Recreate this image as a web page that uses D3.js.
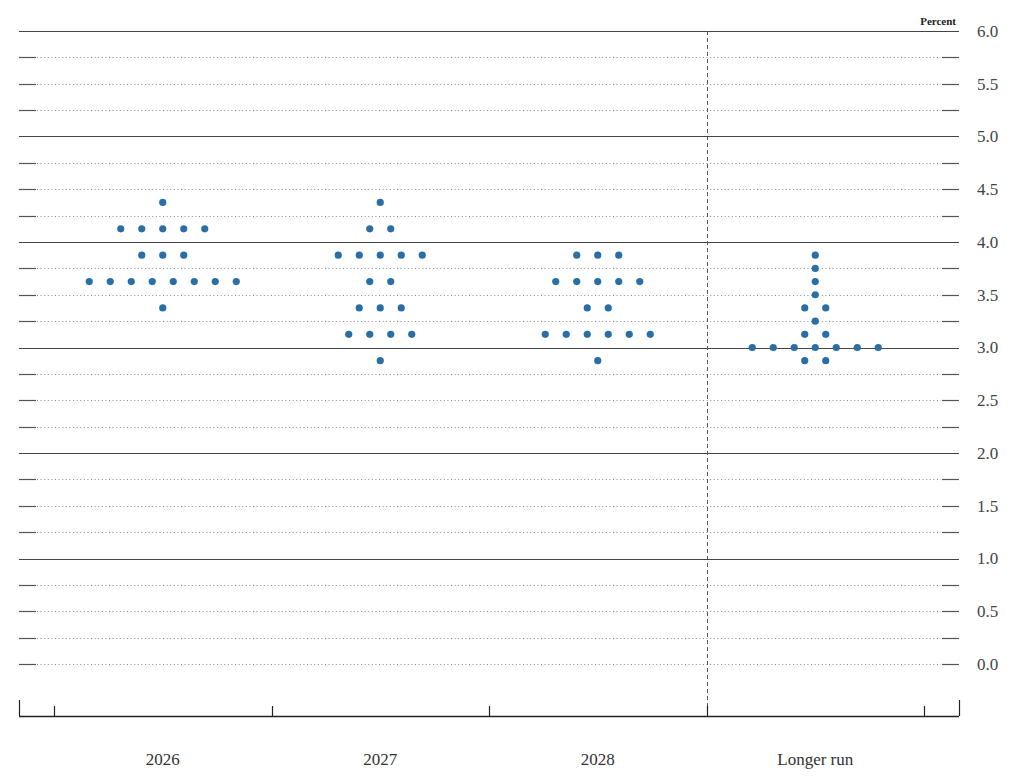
<!DOCTYPE html>
<html>
<head>
<meta charset="utf-8">
<script src="https://cdn.jsdelivr.net/npm/d3@7"></script>
<style>
  body { margin: 0; background: #fff; }
  svg { display: block; }
</style>
</head>
<body>
<div id="chart"></div>
<script>
// Datos: categorias y una entrada por participante (valor del punto)
var categories = ["2026", "2027", "2028", "Longer run"];

var rates2026 = [4.375,
  4.125, 4.125, 4.125, 4.125, 4.125,
  3.875, 3.875, 3.875,
  3.625, 3.625, 3.625, 3.625, 3.625, 3.625, 3.625, 3.625,
  3.375];

var rates2027 = [4.375,
  4.125, 4.125,
  3.875, 3.875, 3.875, 3.875, 3.875,
  3.625, 3.625,
  3.375, 3.375, 3.375,
  3.125, 3.125, 3.125, 3.125,
  2.875];

var rates2028 = [
  3.875, 3.875, 3.875,
  3.625, 3.625, 3.625, 3.625, 3.625,
  3.375, 3.375,
  3.125, 3.125, 3.125, 3.125, 3.125, 3.125,
  2.875];

var ratesLonger = [3.875, 3.75, 3.625, 3.5,
  3.375, 3.375,
  3.25,
  3.125, 3.125,
  3.0, 3.0, 3.0, 3.0, 3.0, 3.0, 3.0,
  2.875, 2.875];

var yTickLabels = ["0.0", "0.5", "1.0", "1.5", "2.0", "2.5", "3.0", "3.5", "4.0", "4.5", "5.0", "5.5", "6.0"];

var series = [rates2026, rates2027, rates2028, ratesLonger];

// Dimensiones
var width = 1024, height = 783;
var left = 19, right = 959;

var svg = d3.select("#chart").append("svg")
    .attr("width", width)
    .attr("height", height);

var x = d3.scaleBand().domain(categories).range([54, 924]).padding(0);
var y = d3.scaleLinear().domain([0, 6]).range([664, 31]);

// Lineas horizontales cada 0.25
var gridVals = d3.range(0, 6.001, 0.25);
var grid = svg.append("g");
gridVals.forEach(function(v) {
  var yy = Math.round(y(v)) + 0.5;
  if (v > 0 && Math.abs(v - Math.round(v)) < 1e-6) {
    grid.append("line")
      .attr("x1", left).attr("x2", right)
      .attr("y1", yy).attr("y2", yy)
      .attr("stroke", "#444").attr("stroke-width", 1.2);
  } else {
    grid.append("line")
      .attr("x1", 37).attr("x2", 941)
      .attr("y1", yy).attr("y2", yy)
      .attr("stroke", "#8a8a8a").attr("stroke-width", 1)
      .attr("stroke-dasharray", "1,2.6");
    grid.append("line")
      .attr("x1", left).attr("x2", 36)
      .attr("y1", yy).attr("y2", yy)
      .attr("stroke", "#555").attr("stroke-width", 1.2);
    grid.append("line")
      .attr("x1", 942).attr("x2", right)
      .attr("y1", yy).attr("y2", yy)
      .attr("stroke", "#555").attr("stroke-width", 1.2);
  }
});

// Linea discontinua antes de "Longer run"
var sepX = Math.round(x("Longer run")) + 0.5;
svg.append("line")
  .attr("x1", sepX).attr("x2", sepX)
  .attr("y1", y(6)).attr("y2", 716)
  .attr("stroke", "#555").attr("stroke-width", 1)
  .attr("stroke-dasharray", "4,3");

// Etiquetas del eje Y a la derecha
var yAxis = d3.axisRight(y)
  .tickValues(yTickLabels.map(Number))
  .tickFormat(function(d, i) { return yTickLabels[i]; })
  .tickSize(0)
  .tickPadding(0);

svg.append("g")
  .attr("transform", "translate(977,0)")
  .call(yAxis)
  .call(function(g) { g.select(".domain").remove(); })
  .selectAll("text")
  .style("font-family", '"Liberation Serif", "Times New Roman", serif')
  .style("font-size", "17px")
  .attr("fill", "#444");

svg.append("text")
  .attr("x", 956).attr("y", 25)
  .attr("text-anchor", "end")
  .style("font-family", '"Liberation Serif", "Times New Roman", serif')
  .style("font-size", "11px")
  .style("font-weight", "bold")
  .attr("fill", "#222")
  .text("Percent");

// Eje X
var axisY = 716;
svg.append("line")
  .attr("x1", left).attr("x2", right)
  .attr("y1", axisY + 0.5).attr("y2", axisY + 0.5)
  .attr("stroke", "#222").attr("stroke-width", 1.5);

var bounds = categories.map(function(c) { return x(c); }).concat([x.range()[1]]);
svg.selectAll(".xtick").data(bounds).enter().append("line")
  .attr("class", "xtick")
  .attr("x1", function(d) { return Math.round(d) + 0.5; })
  .attr("x2", function(d) { return Math.round(d) + 0.5; })
  .attr("y1", axisY - 10).attr("y2", axisY)
  .attr("stroke", "#222").attr("stroke-width", 1.2);

[left, right].forEach(function(px) {
  svg.append("line")
    .attr("x1", px + 0.5).attr("x2", px + 0.5)
    .attr("y1", axisY - 16).attr("y2", axisY)
    .attr("stroke", "#222").attr("stroke-width", 1.2);
});

var xAxis = d3.axisBottom(x).tickSize(0).tickPadding(0);
svg.append("g")
  .attr("transform", "translate(0,753)")
  .call(xAxis)
  .call(function(g) { g.select(".domain").remove(); })
  .selectAll("text")
  .style("font-family", '"Liberation Serif", "Times New Roman", serif')
  .style("font-size", "17px")
  .attr("fill", "#333");

// Puntos
var spacing = 21;
var dots = [];
series.forEach(function(arr, ci) {
  var counts = d3.rollups(arr, function(v) { return v.length; }, function(d) { return d; });
  counts.forEach(function(c) {
    var n = c[1];
    for (var i = 0; i < n; i++) {
      dots.push({cat: categories[ci], value: c[0], offset: (i - (n - 1) / 2) * spacing});
    }
  });
});

svg.append("g").selectAll("circle").data(dots).enter().append("circle")
  .attr("cx", function(d) { return x(d.cat) + x.bandwidth() / 2 + d.offset; })
  .attr("cy", function(d) { return y(d.value); })
  .attr("r", 3.6)
  .attr("fill", "#2a6ea6");
</script>
</body>
</html>
